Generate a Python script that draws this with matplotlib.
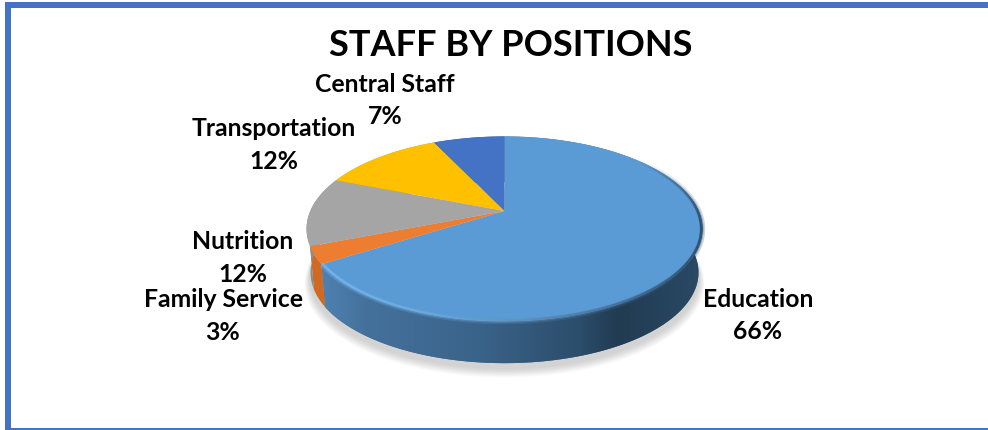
import numpy as np
import matplotlib
matplotlib.use("Agg")
import matplotlib.pyplot as plt
from matplotlib.patches import Rectangle, Polygon
from matplotlib.collections import LineCollection
from matplotlib.colors import LinearSegmentedColormap, to_rgb

categories = ["Education", "Family Service", "Nutrition", "Transportation", "Central Staff"]
shares = [66, 3, 12, 12, 7]
colors = ["#5b9bd5", "#ed7d31", "#a5a5a5", "#ffc000", "#4472c4"]
wall_colors = ["#3f6d97", "#cf6a20", "#8c8c8c", "#c79500", "#35599a"]
label_pos = [(758, 315.5), (223, 316), (243, 258), (274, 145), (385, 100.5)]

plt.rcParams["font.family"] = ["Lato", "DejaVu Sans"]

# pie geometry in pixels, perspective circle around the apex
cx, cy = 504.5, 212
k, A, B = 0.1935, 194.2, 89
depth, shrink = 44, 0.98


def rim(theta, scale=1.0, dy=0.0):
    w = 1 + k * np.cos(theta)
    return cx + scale * A * np.sin(theta) / w, cy - scale * B * np.cos(theta) / w + dy


def mix(c1, c2, t):
    c1, c2 = np.array(to_rgb(c1)), np.array(to_rgb(c2))
    return c1 + (c2 - c1) * t


fig = plt.figure(figsize=(9.88, 4.31), dpi=100)
ax = fig.add_axes([0, 0, 1, 1])
ax.axis("off")

# frame
for box in [(5, 3, 983, 6), (5, 3, 6, 428), (5, 429, 983, 2)]:
    ax.add_patch(Rectangle(box[:2], box[2], box[3], color="#4472c4", lw=0))

# soft shadow under the pie
t = np.linspace(0, 2 * np.pi, 240)
for i in range(12):
    x, y = rim(t, shrink + 0.0025 * (12 - i), depth + 5 + (12 - i) * 0.5)
    ax.fill(x, y, color="#808080", alpha=0.03, lw=0)

edges = np.cumsum([0] + shares) / 100 * 2 * np.pi

# side wall of each slice
for start, end, base in zip(edges[:-1], edges[1:], wall_colors):
    th = np.linspace(start, end, 160)
    x1, y1 = rim(th)
    x2, y2 = rim(th[::-1], shrink, depth)
    ax.fill(np.r_[x1, x2], np.r_[y1, y2], color=base, lw=0)

# the big slice wall gets a left to right gradient
wall_cmap = LinearSegmentedColormap.from_list("wall", [
    (0.00, "#5186b6"), (0.14, "#44719c"), (0.43, "#3a6389"),
    (0.68, "#2c4d6b"), (0.78, "#213b52"), (1.00, "#2b4a66")])
th = np.linspace(0, edges[1], 300)
x1, y1 = rim(th)
x2, y2 = rim(th[::-1], shrink, depth)
wall_clip = Polygon(np.c_[np.r_[x1, x2], np.r_[y1, y2]], transform=ax.transData, fc="none", ec="none")
ax.add_patch(wall_clip)
grad = ax.imshow(np.linspace(0, 1, 256)[None, :], cmap=wall_cmap, extent=(310, 705, 400, 200),
                 aspect="auto", zorder=1.5)
grad.set_clip_path(wall_clip)

# top face
for start, end, col in zip(edges[:-1], edges[1:], colors):
    th = np.linspace(start, end, 120)
    x, y = rim(th)
    ax.fill(np.r_[cx, x], np.r_[cy, y], color=col, lw=0, zorder=2)

# bevel along the front rim, fades out towards the back
th = np.linspace(0.9, edges[1], 400)
for scale, lw, alpha in [(1.0, 4.0, 0.25), (0.997, 2.4, 0.45), (0.993, 1.4, 0.6)]:
    x, y = rim(th, scale)
    pts = np.c_[x, y]
    segs = np.stack([pts[:-1], pts[1:]], axis=1)
    rgba = []
    for xm, tm in zip((x[:-1] + x[1:]) / 2, th[:-1]):
        f = np.clip((xm - 330) / 370, 0, 1)
        fade = np.clip((tm - 0.9) / 0.8, 0, 1)
        rgba.append((*mix("#78b9f0", "#24415c", f ** 1.6), alpha * fade))
    ax.add_collection(LineCollection(segs, colors=rgba, linewidths=lw, capstyle="butt", zorder=3))

ax.set_xlim(0, 988)
ax.set_ylim(431, 0)

# labels
for name, val, pos in zip(categories, shares, label_pos):
    ax.text(pos[0], pos[1], f"{name}\n{val}%", ha="center", va="center", fontsize=17.8,
            fontweight="bold", color="black", linespacing=1.5, zorder=4)

ax.text(510.5, 45, "STAFF BY POSITIONS", ha="center", va="center", fontsize=26,
        fontweight="bold", color="black", zorder=4)

fig.savefig("out.png", dpi=100)
